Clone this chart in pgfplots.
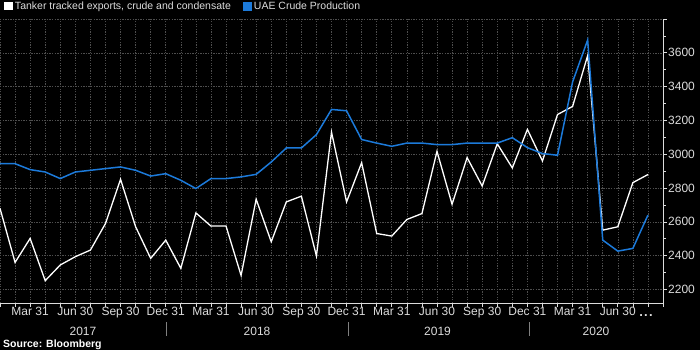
\documentclass[border=0pt]{standalone}
\usepackage{fontspec}
\setmainfont{Liberation Sans}
\usepackage{pgfplots}
\usepackage{pgfplotstable}
\pgfplotsset{compat=1.18}
\definecolor{bblue}{RGB}{28,122,218}
\definecolor{tickc}{RGB}{220,220,220}
\definecolor{gridc}{RGB}{78,78,78}
\pgfplotstableread{
i white blue
0 2680 2944
1 2360 2944
2 2502 2909
3 2252 2895
4 2345 2856
5 2394 2895
6 2433 2905
7 2590 2915
8 2852 2925
9 2571 2905
10 2384 2871
11 2492 2885
12 2325 2846
13 2653 2797
14 2575 2856
15 2575 2856
16 2283 2866
17 2734 2881
18 2482 2954
19 2718 3037
20 2752 3037
21 2398 3116
22 3131 3265
23 2718 3257
24 2950 3087
25 2531 3066
26 2516 3047
27 2614 3066
28 2649 3066
29 3017 3057
30 2704 3057
31 2980 3066
32 2812 3066
33 3062 3066
34 2919 3098
35 3147 3039
36 2960 3004
37 3235 2994
38 3283 3428
39 3584 3676
40 2551 2492
41 2571 2427
42 2832 2443
43 2880 2640
}\datatable
\begin{document}
\begin{tikzpicture}[x=1bp,y=1bp]
\fill[black] (0,0) rectangle (700,350);
\begin{axis}[
  at={(0bp,47bp)}, anchor=south west,
  scale only axis, width=663bp, height=284bp,
  xmin=0, xmax=44, ymin=2120, ymax=3800,
  axis x line*=bottom, axis y line*=right,
  axis line style={tickc, line width=0.8bp},
  every tick/.style={tickc, line width=0.7bp},
  tick align=outside,
  major tick length=3.5bp, minor tick length=2.5bp,
  xtick={0,1,2,3,4,5,6,7,8,9,10,11,12,13,14,15,16,17,18,19,20,21,22,23,24,25,26,27,28,29,30,31,32,33,34,35,36,37,38,39,40,41,42,43,44},
  xticklabels={},
  extra x ticks={2,5,8,11,14,17,20,23,26,29,32,35,38,41},
  extra x tick labels={Mar 31,Jun 30,Sep 30,Dec 31,Mar 31,Jun 30,Sep 30,Dec 31,Mar 31,Jun 30,Sep 30,Dec 31,Mar 31,Jun 30},
  extra x tick style={grid=none, major tick length=0pt},
  xticklabel style={font=\fontsize{12bp}{14bp}\selectfont, text=tickc, anchor=north, inner sep=0pt, yshift=-4bp},
  ytick={2200,2400,2600,2800,3000,3200,3400,3600,3800},
  yticklabels={2200,2400,2600,2800,3000,3200,3400,3600,{}},
  minor ytick={2300,2500,2700,2900,3100,3300,3500,3700},
  yticklabel style={font=\fontsize{12bp}{14bp}\selectfont, text=tickc, anchor=west, inner sep=0pt, xshift=1.5bp},
  xmajorgrids, ymajorgrids,
  grid style={gridc, dash pattern=on 1.3bp off 1.3bp, line width=0.6bp},
  legend columns=2,
  legend cell align=left,
  legend style={at={(axis description cs:0,1)}, anchor=south west, xshift=4bp, yshift=6bp,
    draw=none, fill=none, inner sep=0pt, text=tickc,
    font=\fontsize{10.5bp}{12bp}\selectfont,
    /tikz/every even column/.append style={column sep=10bp}},
  legend image code/.code={\fill[#1] (0bp,-3.5bp) rectangle (7.5bp,3.5bp);},
]
\addplot[color=white, line width=1.3bp, mark=none] table[x=i, y=white] {\datatable};
\addlegendentry{Tanker tracked exports, crude and condensate}
\addplot[color=bblue, line width=1.5bp, mark=none] table[x=i, y=blue] {\datatable};
\addlegendentry{UAE Crude Production}
\end{axis}
\node[anchor=base, inner sep=0pt, text=tickc, font=\fontsize{13bp}{14bp}\selectfont\bfseries] at (646,33.5) {.\kern1.2bp.\kern1.2bp.};
\node[text=tickc, font=\fontsize{12bp}{14bp}\selectfont] at (83,19) {2017};
\node[text=tickc, font=\fontsize{12bp}{14bp}\selectfont] at (257,19) {2018};
\node[text=tickc, font=\fontsize{12bp}{14bp}\selectfont] at (437.5,19) {2019};
\node[text=tickc, font=\fontsize{12bp}{14bp}\selectfont] at (596,19) {2020};
\draw[gray, line width=0.7bp] (166,28) -- (166,14);
\draw[gray, line width=0.7bp] (348,28) -- (348,14);
\draw[gray, line width=0.7bp] (529,28) -- (529,14);
\node[anchor=base west, inner sep=0pt, text=white, font=\fontsize{10.5bp}{12bp}\selectfont\bfseries] at (3,3) {Source: Bloomberg};
\pgfresetboundingbox
\useasboundingbox (0,0) rectangle (700,350);
\end{tikzpicture}
\end{document}
